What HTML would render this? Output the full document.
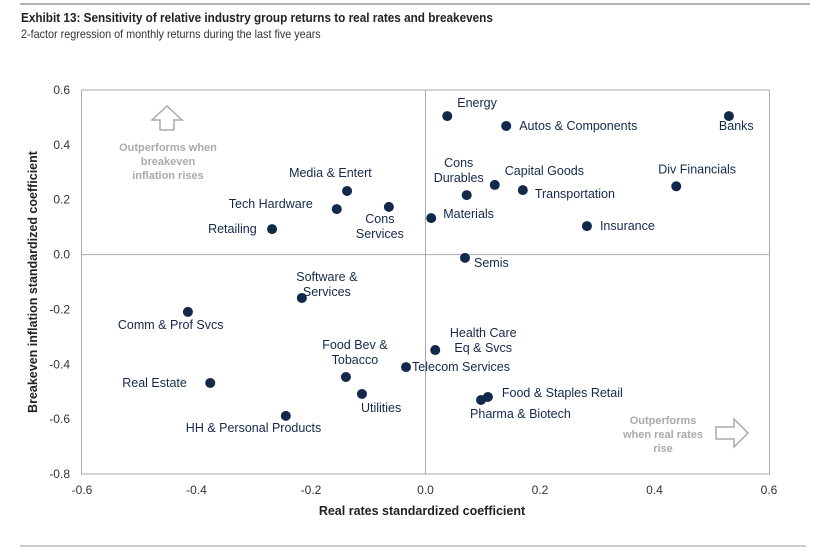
<!DOCTYPE html>
<html><head><meta charset="utf-8"><style>
body{margin:0;width:825px;height:550px;background:#fff;overflow:hidden;font-family:"Liberation Sans",sans-serif}
svg text{font-family:"Liberation Sans",sans-serif}
</style></head><body>
<svg id="chart" width="825" height="550">
<line x1="20" y1="4" x2="810" y2="4" stroke="#999" stroke-width="1.5"/>
<line x1="20" y1="546" x2="806" y2="546" stroke="#999" stroke-width="1"/>
<text x="21" y="22" font-size="12.5" font-weight="bold" fill="#222" transform="scale(0.94,1)" style="transform-origin:21px 22px">Exhibit 13: Sensitivity of relative industry group returns to real rates and breakevens</text>
<text x="21" y="38" font-size="11.5" fill="#333" transform="scale(0.94,1)" style="transform-origin:21px 38px">2-factor regression of monthly returns during the last five years</text>
<rect x="81.5" y="90" width="688" height="384" fill="none" stroke="#aaa"/>
<g id="axes"></g>
<g id="annot" fill="#aaa" font-size="11" font-weight="bold" text-anchor="middle">
<path d="M160,130 v-10 h-8 l15,-14 l15,14 h-8 v10 z" fill="none" stroke="#aaa" stroke-width="1.5"/>
<text x="168" y="151">Outperforms when</text>
<text x="168" y="165">breakeven</text>
<text x="168" y="179">inflation rises</text>
<text x="663" y="424">Outperforms</text>
<text x="663" y="438">when real rates</text>
<text x="663" y="452">rise</text>
<path d="M716,427 h18 v-8 l14,14 l-14,14 v-8 h-18 z" fill="none" stroke="#aaa" stroke-width="1.5"/>
</g>
<g id="points"></g>
<text x="422" y="515" font-size="12.5" font-weight="bold" fill="#222" text-anchor="middle">Real rates standardized coefficient</text>
<text transform="translate(37,282) rotate(-90)" font-size="12.5" font-weight="bold" fill="#222" text-anchor="middle">Breakeven inflation standardized coefficient</text>
</svg>
<script>
const names=["Energy","Autos & Components","Banks","Cons Durables","Capital Goods","Transportation","Div Financials","Insurance","Materials","Semis","Media & Entert","Tech Hardware","Cons Services","Retailing","Software & Services","Comm & Prof Svcs","Health Care Eq & Svcs","Telecom Services","Food Bev & Tobacco","Utilities","Real Estate","HH & Personal Products","Food & Staples Retail","Pharma & Biotech"];
const realRates=[0.038,0.141,0.530,0.072,0.121,0.170,0.438,0.282,0.010,0.069,-0.137,-0.155,-0.064,-0.268,-0.216,-0.415,0.017,-0.034,-0.139,-0.111,-0.376,-0.244,0.109,0.097];
const breakevens=[0.505,0.469,0.505,0.217,0.254,0.235,0.249,0.104,0.133,-0.012,0.232,0.166,0.174,0.093,-0.158,-0.209,-0.348,-0.410,-0.446,-0.508,-0.468,-0.588,-0.519,-0.530];
const xTicks=["-0.6","-0.4","-0.2","0.0","0.2","0.4","0.6"];
const yTicks=["0.6","0.4","0.2","0.0","-0.2","-0.4","-0.6","-0.8"];
const labelOffsets=[[10,-9,"start"],[13,4,"start"],[-10,14,"start"],[-38,-28,"end"],[10,-10,"start"],[12,8,"start"],[-18,-13,"start"],[13,4,"start"],[12,0,"start"],[9,9,"start"],[-58,-14,"start"],[-108,-1,"start"],[-39,16,"start"],[-64,4,"start"],[-5,-17,"start"],[-70,17,"start"],[18,-13,"start"],[6,4,"start"],[-21,-28,"start"],[-1,18,"start"],[-88,4,"start"],[-100,16,"start"],[14,0,"start"],[-11,18,"start"]];
const sx=v=>425.5+v*572.5, sy=v=>254.6-v*274.3;
const NS="http://www.w3.org/2000/svg";
const ax=document.getElementById('axes'), pts=document.getElementById('points');
function mk(tag,attrs,parent){const e=document.createElementNS(NS,tag);for(const k in attrs)e.setAttribute(k,attrs[k]);parent.appendChild(e);return e;}
let l=mk('line',{x1:sx(0),x2:sx(0),y1:90,y2:474,stroke:'#aaa'},ax);


l=mk('line',{x1:81.5,x2:769.5,y1:sy(0),y2:sy(0),stroke:'#aaa'},ax);


xTicks.forEach(t=>{const e=mk('text',{x:sx(parseFloat(t)),y:494,'font-size':12,fill:'#333','text-anchor':'middle'},ax);e.textContent=t;

});
yTicks.forEach(t=>{const e=mk('text',{x:70,y:sy(parseFloat(t))+4,'font-size':12,fill:'#333','text-anchor':'end'},ax);e.textContent=t;

});
const split={"Cons Durables":["Cons","Durables"],"Cons Services":["Cons","Services"],"Software & Services":["Software &","Services"],"Health Care Eq & Svcs":["Health Care","Eq & Svcs"],"Food Bev & Tobacco":["Food Bev &","Tobacco"]};
names.forEach((n,i)=>{const cx=sx(realRates[i]),cy=sy(breakevens[i]);
const c=mk('circle',{cx:cx,cy:cy,r:5,fill:'#13294b'},pts);


const o=labelOffsets[i];const lines=split[n]||[n];
const t=mk('text',{x:cx+o[0],y:cy+o[1],'font-size':12.5,fill:'#13294b','text-anchor':lines.length>1?'middle':o[2]},pts);
if(lines.length>1){t.setAttribute('x',cx+o[0]+30);}
lines.forEach((s,j)=>{const ts=mk('tspan',{x:t.getAttribute('x'),dy:j?15:0},t);ts.textContent=s;});

});
</script>
</body></html>
